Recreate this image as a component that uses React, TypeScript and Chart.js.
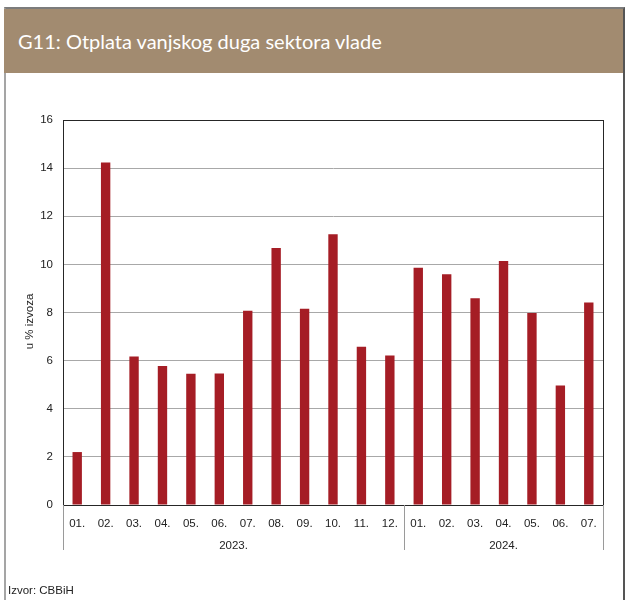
import React, { useEffect, useRef } from 'react';
import { Chart, registerables } from 'chart.js';

Chart.register(...registerables);

const months = ['01.', '02.', '03.', '04.', '05.', '06.', '07.', '08.', '09.', '10.', '11.', '12.', '01.', '02.', '03.', '04.', '05.', '06.', '07.'];
const years = ['2023.', '2024.'];
const monthsPerYear = [12, 7];
const values = [2.2, 14.23, 6.17, 5.78, 5.45, 5.46, 8.07, 10.68, 8.16, 11.25, 6.58, 6.21, 9.86, 9.59, 8.59, 10.14, 7.98, 4.97, 8.42];
const yMin = 0;
const yMax = 16;
const yStep = 2;
const yTitle = 'u % izvoza';
const titleText = 'G11: Otplata vanjskog duga sektora vlade';
const sourceText = 'Izvor: CBBiH';

const FONT = "'Liberation Sans', Arial, sans-serif";
const FS = 11.5;

const decorPlugin = {
  id: 'decor',
  afterDraw(chart: any) {
    const { ctx, chartArea } = chart;
    const x = chart.scales.x;
    const { left, right, top, bottom } = chartArea;
    ctx.save();
    ctx.strokeStyle = '#262626';
    ctx.lineWidth = 1;
    ctx.strokeRect(Math.round(left) + 0.5, Math.round(top) + 0.5, Math.round(right - left), Math.round(bottom - top));
    const half = (x.getPixelForTick(1) - x.getPixelForTick(0)) / 2;
    let start = 0;
    const bounds: number[] = [x.getPixelForTick(0) - half];
    monthsPerYear.forEach((n) => {
      const end = start + n - 1;
      bounds.push(x.getPixelForTick(end) + half);
      start += n;
    });
    ctx.strokeStyle = '#9a9a9a';
    ctx.lineWidth = 1;
    bounds.forEach((b) => {
      const px = Math.round(b) + 0.5;
      ctx.beginPath();
      ctx.moveTo(px, bottom);
      ctx.lineTo(px, bottom + 45);
      ctx.stroke();
    });
    ctx.fillStyle = '#222';
    ctx.font = `${FS}px ${FONT}`;
    ctx.textAlign = 'center';
    ctx.textBaseline = 'middle';
    years.forEach((yr, i) => {
      ctx.fillText(yr, (bounds[i] + bounds[i + 1]) / 2, bottom + 41);
    });
    ctx.translate(30, (top + bottom) / 2 + 9);
    ctx.rotate(-Math.PI / 2);
    ctx.fillText(yTitle, 0, 0);
    ctx.restore();
  },
};

export default function App() {
  const ref = useRef<HTMLCanvasElement>(null);

  useEffect(() => {
    if (!ref.current) return;
    const chart = new Chart(ref.current, {
      type: 'bar',
      data: {
        labels: months,
        datasets: [
          {
            data: values,
            backgroundColor: '#a51d25',
            borderWidth: 0,
            barPercentage: 0.33,
            categoryPercentage: 1,
          },
        ],
      },
      options: {
        animation: false,
        responsive: true,
        maintainAspectRatio: false,
        layout: { padding: { top: 40, right: 22, bottom: 0, left: 0 } },
        plugins: { legend: { display: false }, tooltip: { enabled: false } },
        scales: {
          x: {
            grid: { display: false, drawTicks: false },
            border: { display: true, color: '#444', width: 1 },
            ticks: { color: '#222', font: { family: FONT, size: FS }, padding: 12, maxRotation: 0, autoSkip: false },
            afterFit: (s: any) => { s.height = 95; },
          },
          y: {
            min: yMin,
            max: yMax,
            ticks: { stepSize: yStep, color: '#222', font: { family: FONT, size: FS }, padding: 10 },
            grid: { color: '#a8a8a8', lineWidth: 1, drawTicks: false },
            border: { display: true, color: '#262626', width: 1 },
            afterFit: (s: any) => { s.width = 63; },
          },
        },
      },
      plugins: [decorPlugin],
    });
    return () => chart.destroy();
  }, []);

  return (
    <div style={{ position: 'absolute', left: 0, top: 0, width: 625, height: 600, background: '#fff', overflow: 'hidden' }}>
      <div style={{ position: 'absolute', left: 0, top: 80, width: 625, height: 520 }}>
        <canvas ref={ref} />
      </div>
      <div style={{ position: 'absolute', left: 4, top: 7, width: 621, height: 620, boxSizing: 'border-box', borderTop: '2px solid #7c7c7c', borderLeft: '2px solid #a5a5a5', borderRight: '2px solid #555', pointerEvents: 'none' }} />
      <div style={{ position: 'absolute', left: 4, top: 9, width: 619, height: 64, background: '#a28b70', color: '#fff', fontFamily: "Lato, 'Open Sans', sans-serif", fontSize: 20, lineHeight: '64px', paddingLeft: 14, boxSizing: 'border-box', whiteSpace: 'nowrap' }}>
        {titleText}
      </div>
      <div style={{ position: 'absolute', left: 8, top: 584, fontFamily: FONT, fontSize: FS, color: '#222' }}>{sourceText}</div>
    </div>
  );
}
